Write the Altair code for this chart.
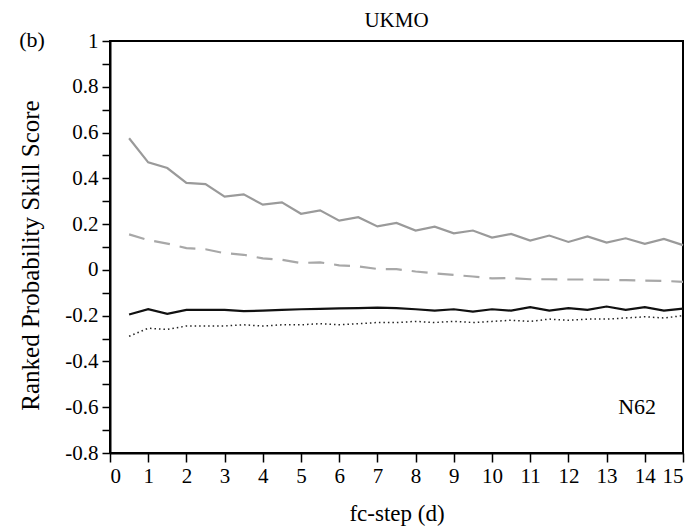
import altair as alt
import pandas as pd

# forecast step (days)
steps = [0.5, 1.0, 1.5, 2.0, 2.5, 3.0, 3.5, 4.0, 4.5, 5.0,
         5.5, 6.0, 6.5, 7.0, 7.5, 8.0, 8.5, 9.0, 9.5, 10.0,
         10.5, 11.0, 11.5, 12.0, 12.5, 13.0, 13.5, 14.0, 14.5, 15.0]

gray_solid = [0.575, 0.47, 0.445, 0.38, 0.375, 0.32, 0.33, 0.285, 0.295, 0.245,
              0.26, 0.215, 0.23, 0.19, 0.205, 0.172, 0.189, 0.16, 0.172, 0.141,
              0.157, 0.128, 0.15, 0.122, 0.146, 0.119, 0.138, 0.114, 0.135, 0.108]

gray_dashed = [0.155, 0.13, 0.115, 0.095, 0.09, 0.073, 0.066, 0.05, 0.044, 0.03,
               0.033, 0.02, 0.015, 0.004, 0.003, -0.007, -0.015, -0.022, -0.029, -0.037,
               -0.036, -0.041, -0.041, -0.042, -0.042, -0.043, -0.045, -0.047, -0.048, -0.052]

black_solid = [-0.195, -0.172, -0.192, -0.175, -0.175, -0.175, -0.18, -0.178, -0.175, -0.172,
               -0.17, -0.168, -0.167, -0.165, -0.167, -0.172, -0.178, -0.172, -0.182, -0.172,
               -0.178, -0.163, -0.178, -0.167, -0.175, -0.16, -0.175, -0.163, -0.178, -0.169]

black_dotted = [-0.29, -0.255, -0.26, -0.245, -0.245, -0.245, -0.24, -0.245, -0.24, -0.24,
                -0.235, -0.24, -0.235, -0.23, -0.23, -0.225, -0.23, -0.225, -0.23, -0.225,
                -0.22, -0.225, -0.215, -0.22, -0.215, -0.215, -0.21, -0.205, -0.21, -0.2]

x_ticks = [0, 1, 2, 3, 4, 5, 6, 7, 8, 9, 10, 11, 12, 13, 14, 15]
y_ticks = [-0.8, -0.7, -0.6, -0.5, -0.4, -0.3, -0.2, -0.1, 0, 0.1,
           0.2, 0.3, 0.4, 0.5, 0.6, 0.7, 0.8, 0.9, 1]

series = {
    "gray_solid": gray_solid,
    "gray_dashed": gray_dashed,
    "black_solid": black_solid,
    "black_dotted": black_dotted,
}
rows = []
for name, vals in series.items():
    for s, v in zip(steps, vals):
        rows.append({"series": name, "step": s, "rpss": v})
df = pd.DataFrame(rows)

FONT = "Liberation Serif"
W, H = 573, 412

x_enc = alt.X(
    "step:Q",
    scale=alt.Scale(domain=[0, 15], nice=False, zero=False),
    axis=alt.Axis(
        values=x_ticks, title="fc-step (d)", grid=False,
        tickSize=9, tickWidth=1.5, tickColor="black",
        domainColor="black", domainWidth=2,
        labelFont=FONT, labelFontSize=21, labelColor="black", labelPadding=3,
        titleFont=FONT, titleFontSize=23, titleFontWeight="normal", titleColor="black",
        titleX=W / 2, titleY=60, titleBaseline="middle", titleAlign="center",
    ),
)
y_enc = alt.Y(
    "rpss:Q",
    scale=alt.Scale(domain=[-0.8, 1], nice=False, zero=False),
    axis=alt.Axis(
        values=y_ticks, title="Ranked Probability Skill Score", grid=False,
        labelExpr="abs(round(datum.value*10)) % 2 == 0 ? toString(datum.value) : ''",
        tickSize=8, tickWidth=1.5, tickColor="black",
        domainColor="black", domainWidth=2,
        labelFont=FONT, labelFontSize=21, labelColor="black", labelPadding=4,
        titleFont=FONT, titleFontSize=25, titleFontWeight="normal", titleColor="black",
        titleX=-80, titleY=H / 2 + 8, titleAngle=270, titleBaseline="middle", titleAlign="center",
    ),
)

styles = {
    "gray_solid": dict(color="#9a9a9a", strokeWidth=2.2),
    "gray_dashed": dict(color="#a8a8a8", strokeWidth=2.2, strokeDash=[16, 10]),
    "black_solid": dict(color="#111111", strokeWidth=2.2),
    "black_dotted": dict(color="#222222", strokeWidth=1.5, strokeDash=[1.5, 3]),
}

layers = []
for name in series:
    layers.append(
        alt.Chart(df)
        .transform_filter(alt.datum.series == name)
        .mark_line(**styles[name])
        .encode(x=x_enc, y=y_enc)
    )

note_df = pd.DataFrame({"step": [13.8], "rpss": [-0.6], "label": ["N62"]})
note = alt.Chart(note_df).mark_text(font=FONT, fontSize=22, color="black").encode(
    x=x_enc, y=y_enc, text="label:N"
)

title_df = pd.DataFrame({"label": ["UKMO"]})
title_txt = alt.Chart(title_df).mark_text(
    font=FONT, fontSize=21, color="black", baseline="top"
).encode(x=alt.value(W / 2), y=alt.value(-31), text="label:N")
panel_df = pd.DataFrame({"label": ["(b)"]})
panel_txt = alt.Chart(panel_df).mark_text(font=FONT, fontSize=22, color="black").encode(
    x=alt.value(-78), y=alt.value(-1), text="label:N"
)

chart = (
    alt.layer(*layers, note, title_txt, panel_txt)
    .properties(
        width=W, height=H,
        autosize=alt.AutoSizeParams(type="none"),
        padding={"left": 102, "top": 33, "right": 8, "bottom": 75},
        background="white",
    )
    .configure_view(stroke="black", strokeWidth=2)
)

chart.save("out.html", embed_options={"renderer": "svg", "actions": False})
